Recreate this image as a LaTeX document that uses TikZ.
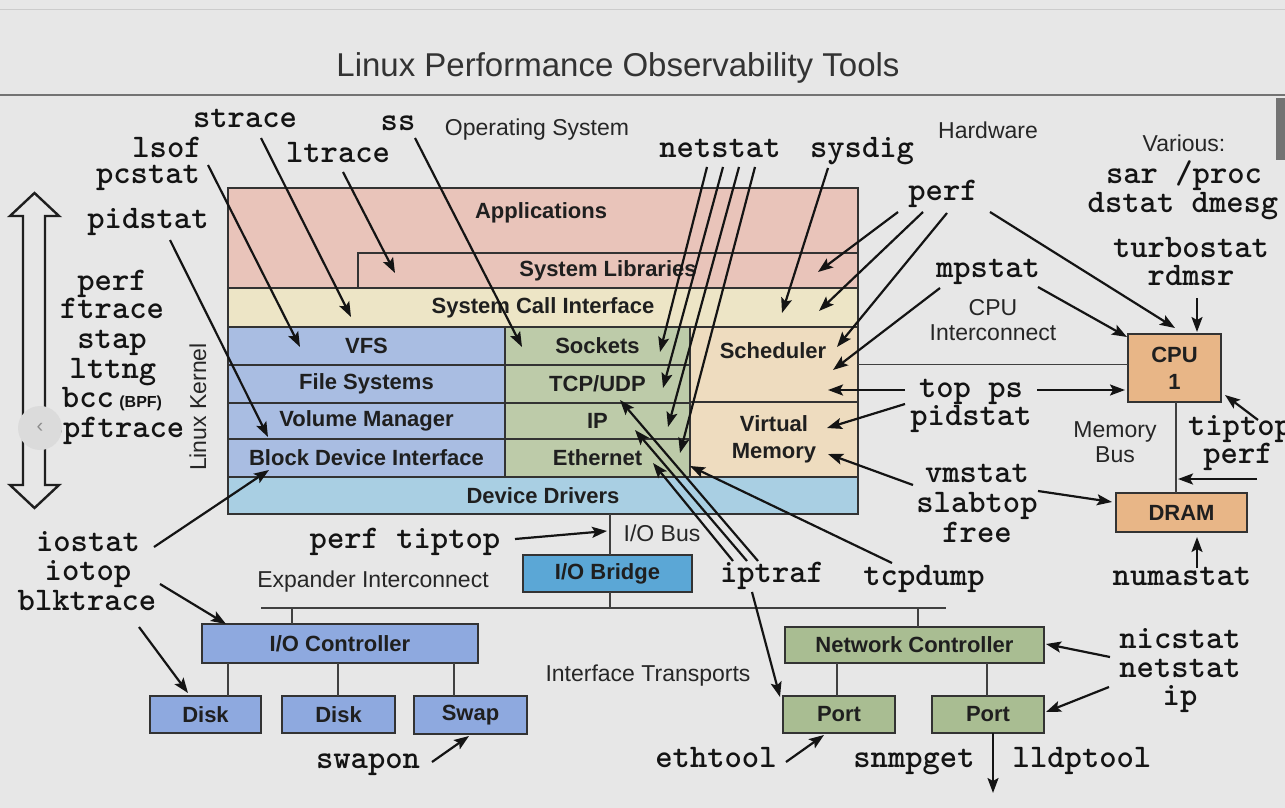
\documentclass[tikz,border=0pt]{standalone}
\usepackage{fontspec}
\setmainfont{Liberation Sans}
\usetikzlibrary{arrows.meta}
\definecolor{bgc}{HTML}{E7E7E7}
\definecolor{pinkc}{HTML}{E9C4BA}
\definecolor{yelc}{HTML}{EDE5C6}
\definecolor{bluec}{HTML}{A9BDE2}
\definecolor{greenc}{HTML}{BDCBA9}
\definecolor{tanc}{HTML}{EEDCBF}
\definecolor{ddc}{HTML}{A9CFE3}
\definecolor{iobc}{HTML}{5BA7D6}
\definecolor{iocc}{HTML}{8EA9DF}
\definecolor{ncc}{HTML}{A9BD92}
\definecolor{cpuc}{HTML}{E8B687}
\begin{document}
\begin{tikzpicture}[x=1pt,y=-1pt,
 tool/.style={font=\ttfamily\bfseries\fontsize{33}{33}\selectfont,anchor=base,inner sep=0pt,text=black!92},
 lab/.style={font=\fontsize{23}{25}\selectfont,inner sep=0pt,align=center,text=black!85},
 blk/.style={draw=black!80,line width=1.3pt,inner sep=0pt,outer sep=0pt,anchor=north west,font=\bfseries\fontsize{22}{27}\selectfont,align=center,text=black!88},
 btxt/.style={font=\bfseries\fontsize{22}{27}\selectfont,inner sep=0pt,align=center,text=black!88},
 arr/.style={line width=2.2pt,black!92,-{Stealth[length=15pt,width=11pt,inset=3pt]}},
 wire/.style={line width=1.3pt,black!75},
]
\clip (0,0) rectangle (1285,808);
\fill[bgc] (0,0) rectangle (1285,808);
% header
\draw[black!20,line width=1pt] (0,10) -- (1285,10);
\draw[black!55,line width=1.5pt] (0,95) -- (1285,95);
\fill[black!55] (1276,98) rectangle (1285,160);
\node[font=\fontsize{33}{33}\selectfont,text=black!80,inner sep=0pt] (title) at (618,68) {Linux Performance Observability Tools};

% section labels
\node[lab] (os) at (537,130) {Operating System};
\node[lab] (hw) at (988,130) {Hardware};
\node[lab] (various) at (1184,143) {Various:};
\node[lab] (cpuic) at (993,320) {CPU\\Interconnect};
\node[lab] (membus) at (1115,442) {Memory\\Bus};
\node[lab] (iobus) at (662,533) {I/O Bus};
\node[lab] (expic) at (373,582) {Expander Interconnect};
\node[lab] (ift) at (648,676) {Interface Transports};
\node[lab,rotate=90] (lk) at (198,407) {Linux Kernel};

% kernel stack
\node[blk,fill=pinkc,minimum width=630,minimum height=100] (apps) at (228,188) {};
\node[btxt] (appst) at (541,213) {Applications};
\node[blk,fill=pinkc,minimum width=500,minimum height=35] (syslib) at (358,253) {System Libraries};
\node[blk,fill=yelc,minimum width=630,minimum height=39] (syscall) at (228,288) {System Call Interface};
\node[blk,fill=bluec,minimum width=277,minimum height=38] (vfs) at (228,327) {VFS};
\node[blk,fill=bluec,minimum width=277,minimum height=38] (fs) at (228,365) {File Systems};
\node[blk,fill=bluec,minimum width=277,minimum height=36] (volm) at (228,403) {Volume Manager};
\node[blk,fill=bluec,minimum width=277,minimum height=38] (bdi) at (228,439) {Block Device Interface};
\node[blk,fill=greenc,minimum width=185,minimum height=38] (sock) at (505,327) {Sockets};
\node[blk,fill=greenc,minimum width=185,minimum height=38] (tcp) at (505,365) {TCP/UDP};
\node[blk,fill=greenc,minimum width=185,minimum height=36] (ip) at (505,403) {IP};
\node[blk,fill=greenc,minimum width=185,minimum height=38] (eth) at (505,439) {Ethernet};
\node[blk,fill=tanc,minimum width=168,minimum height=75] (sched) at (690,327) {};
\node[btxt] (schedt) at (773,351) {Scheduler};
\node[blk,fill=tanc,minimum width=168,minimum height=75] (virt) at (690,402) {Virtual\\Memory};
\node[blk,fill=ddc,minimum width=630,minimum height=37] (dd) at (228,477) {Device Drivers};

% I/O
\node[blk,fill=iobc,minimum width=169,minimum height=37] (iob) at (523,555) {I/O Bridge};
\coordinate (busL) at (261,608);
\coordinate (busR) at (946,608);
\node[blk,fill=iocc,minimum width=276,minimum height=39] (ioctl) at (202,624) {I/O Controller};
\node[blk,fill=iocc,minimum width=111,minimum height=37] (disk1) at (150,696) {Disk};
\node[blk,fill=iocc,minimum width=113,minimum height=37] (disk2) at (282,696) {Disk};
\node[blk,fill=iocc,minimum width=113,minimum height=38] (swap) at (414,696) {Swap};
\node[blk,fill=ncc,minimum width=259,minimum height=36] (nc) at (785,627) {Network Controller};
\node[blk,fill=ncc,minimum width=112,minimum height=37] (port1) at (783,696) {Port};
\node[blk,fill=ncc,minimum width=112,minimum height=37] (port2) at (932,696) {Port};
\node[blk,fill=cpuc,minimum width=93,minimum height=68] (cpu) at (1128,334) {CPU\\1};
\node[blk,fill=cpuc,minimum width=131,minimum height=39] (dram) at (1116,493) {DRAM};

% wires
\draw[wire] (dd.south -| 610,0) -- (iob.north -| 610,0);
\draw[wire] (iob.south -| 610,0) -- (busL -| 610,0);
\draw[wire] (busL) -- (busR);
\draw[wire] (busL -| 292,0) -- (ioctl.north -| 292,0);
\draw[wire] (busL -| 918,0) -- (nc.north -| 918,0);
\draw[wire] (ioctl.south -| 228,0) -- (disk1.north -| 228,0);
\draw[wire] (ioctl.south -| 338,0) -- (disk2.north -| 338,0);
\draw[wire] (ioctl.south -| 454,0) -- (swap.north -| 454,0);
\draw[wire] (nc.south -| 837,0) -- (port1.north -| 837,0);
\draw[wire] (nc.south -| 987,0) -- (port2.north -| 987,0);
\draw[wire] (sched.east) -- (sched.east -| cpu.west);
\draw[wire] (cpu.south -| 1176,0) -- (dram.north -| 1176,0);

% left double arrow
\draw[line width=2.4pt,black!88,line join=miter] (34.5,193) -- (59,216) -- (45,216) -- (45,485) -- (59,485) -- (34.5,508) -- (10,485) -- (23,485) -- (23,216) -- (10,216) -- cycle;

% tool labels
\node[tool] (strace) at (245,127) {strace};
\node[tool] (lsof) at (167,157) {lsof};
\node[tool] (pcstat) at (148,183) {pcstat};
\node[tool] (ltrace) at (338,162) {ltrace};
\node[tool] (ss) at (398,130) {ss};
\node[tool] (pidstatL) at (148,228) {pidstat};
\node[tool] (netstatT) at (720,157) {netstat};
\node[tool] (sysdig) at (862,157) {sysdig};
\node[tool] (perfT) at (943,200) {perf};
\node[tool] (sar) at (1184,183) {sar /proc};
\node[tool] (dstat) at (1183,212) {dstat dmesg};
\node[tool] (turbo) at (1191,257) {turbostat};
\node[tool] (rdmsr) at (1191,285) {rdmsr};
\node[tool] (mpstat) at (988,277) {mpstat};
\node[tool] (topps) at (971,397) {top ps};
\node[tool] (pidstatR) at (971,425) {pidstat};
\node[tool] (tiptopR) at (1240,435) {tiptop};
\node[tool] (perfR) at (1238,463) {perf};
\node[tool] (vmstat) at (977,482) {vmstat};
\node[tool] (slabtop) at (977,512) {slabtop};
\node[tool] (free) at (977,542) {free};
\node[tool] (tcpdump) at (924,585) {tcpdump};
\node[tool] (numastat) at (1182,585) {numastat};
\node[tool] (iptraf) at (772,582) {iptraf};
\node[tool] (perftiptop) at (405,548) {perf tiptop};
\node[tool] (iostat) at (88,551) {iostat};
\node[tool] (iotop) at (88,580) {iotop};
\node[tool] (blktrace) at (87,610) {blktrace};
\node[tool] (swapon) at (368,768) {swapon};
\node[tool] (ethtool) at (716,767) {ethtool};
\node[tool] (snmpget) at (914,767) {snmpget};
\node[tool] (lldptool) at (1082,767) {lldptool};
\node[tool] (nicstat) at (1180,648) {nicstat};
\node[tool] (netstatB) at (1180,677) {netstat};
\node[tool] (ipB) at (1180,705) {ip};
\node[tool] (perfL) at (112,290) {perf};
\node[tool] (ftrace) at (112,318) {ftrace};
\node[tool] (stap) at (112,348) {stap};
\node[tool] (lttng) at (113,378) {lttng};
\node[tool] (bcc) at (112,407) {bcc\,{\rmfamily\bfseries\fontsize{16}{16}\selectfont(BPF)}};
\node[tool] (bpftrace) at (115,437) {bpftrace};

% slide control overlay
\node[circle,fill=black!14,minimum size=44,inner sep=0pt,text=black!45,font=\fontsize{20}{20}\selectfont] (navc) at (40,428) {\char"2039};

% arrow end points
\coordinate (sStrace) at (261,138);  \coordinate (eStrace) at (351,317);
\coordinate (sLsof) at (208,165);    \coordinate (eLsof) at (300,347);
\coordinate (sLtrace) at (343,172);  \coordinate (eLtrace) at (395,273);
\coordinate (sPidL) at (170,240);    \coordinate (ePidL) at (268,437);
\coordinate (sSs) at (415,138);      \coordinate (eSs) at (522,347);
\coordinate (sNet1) at (707,167);    \coordinate (eNet1) at (660,352);
\coordinate (sNet2) at (723,167);    \coordinate (eNet2) at (663,388);
\coordinate (sNet3) at (739,167);    \coordinate (eNet3) at (668,427);
\coordinate (sNet4) at (755,167);    \coordinate (eNet4) at (680,453);
\coordinate (sSysdig) at (828,168);  \coordinate (eSysdig) at (782,313);
\coordinate (sPerf1) at (898,212);   \coordinate (ePerf1) at (818,272);
\coordinate (sPerf2) at (923,212);   \coordinate (ePerf2) at (819,311);
\coordinate (sPerf3) at (947,213);   \coordinate (ePerf3) at (837,347);
\coordinate (sPerf4) at (990,212);   \coordinate (ePerf4) at (1175,328);
\coordinate (sMp1) at (940,288);     \coordinate (eMp1) at (833,370);
\coordinate (sMp2) at (1038,287);    \coordinate (eMp2) at (1127,337);
\coordinate (sRd) at (1197,298);     \coordinate (eRd) at (1197,332);
\coordinate (sTop1) at (905,390);    \coordinate (eTop1) at (828,390);
\coordinate (sTop2) at (1037,390);   \coordinate (eTop2) at (1125,390);
\coordinate (sPidR) at (905,404);    \coordinate (ePidR) at (827,428);
\coordinate (sVm1) at (913,485);     \coordinate (eVm1) at (828,454);
\coordinate (sVm2) at (1038,491);    \coordinate (eVm2) at (1112,502);
\coordinate (sTipR) at (1258,420);   \coordinate (eTipR) at (1225,395);
\coordinate (sPerfR) at (1257,479);  \coordinate (ePerfR) at (1178,479);
\coordinate (sNuma) at (1197,568);   \coordinate (eNuma) at (1197,537);
\coordinate (sTcpd) at (892,563);    \coordinate (eTcpd) at (690,466);
\coordinate (sIpt1) at (733,561);    \coordinate (eIpt1) at (653,463);
\coordinate (sIpt2) at (747,561);    \coordinate (eIpt2) at (635,430);
\coordinate (sIpt3) at (758,561);    \coordinate (eIpt3) at (620,400);
\coordinate (sIpt4) at (752,592);    \coordinate (eIpt4) at (780,697);
\coordinate (sIostat) at (154,547);  \coordinate (eIostat) at (269,470);
\coordinate (sIotop) at (160,584);   \coordinate (eIotop) at (226,624);
\coordinate (sBlk) at (139,627);     \coordinate (eBlk) at (188,693);
\coordinate (sPT) at (515,539);      \coordinate (ePT) at (607,531);
\coordinate (sSwapon) at (432,762);  \coordinate (eSwapon) at (469,736);
\coordinate (sEth) at (786,762);     \coordinate (eEth) at (824,735);
\coordinate (sNic) at (1110,657);    \coordinate (eNic) at (1046,644);
\coordinate (sNetB) at (1109,687);   \coordinate (eNetB) at (1046,712);
\coordinate (eDown) at (993,793);

% arrows
\foreach \a in {Strace,Lsof,Ltrace,PidL,Ss,Net1,Net2,Net3,Net4,Sysdig,Perf1,Perf2,Perf3,Perf4,Mp1,Mp2,Rd,Top1,Top2,PidR,Vm1,Vm2,TipR,PerfR,Numa,Tcpd,Ipt1,Ipt2,Ipt3,Ipt4,Iostat,Iotop,Blk,PT,Swapon,Eth,Nic,NetB}
  \draw[arr] (s\a) -- (e\a);
\draw[arr] (port2.south -| 993,0) -- (eDown);
\end{tikzpicture}
\end{document}
